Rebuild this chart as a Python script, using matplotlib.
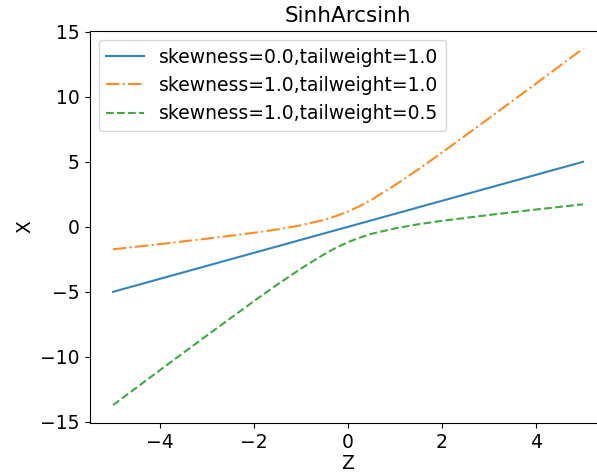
import numpy as np
import matplotlib.pyplot as plt

# sample points along Z
z = [-5.0, -4.0, -3.0, -2.0, -1.5, -1.0, -0.5, -0.25, 0.0, 0.25, 0.5, 1.0, 1.5, 2.0, 3.0, 4.0, 5.0]

# X for each parameter setting
x_sym = [-5.0, -4.0, -3.0, -2.0, -1.5, -1.0, -0.5, -0.25, 0.0, 0.25, 0.5, 1.0, 1.5, 2.0, 3.0, 4.0, 5.0]
x_skew = [-1.73, -1.33, -0.91, -0.46, -0.20, 0.12, 0.54, 0.83, 1.18, 1.60, 2.09, 3.21, 4.43, 5.71, 8.35, 11.02, 13.71]
x_skew_tail = [-13.71, -11.02, -8.35, -5.71, -4.43, -3.21, -2.09, -1.60, -1.18, -0.83, -0.54, -0.12, 0.20, 0.46, 0.91, 1.33, 1.73]

labels = ['skewness=0.0,tailweight=1.0',
          'skewness=1.0,tailweight=1.0',
          'skewness=1.0,tailweight=0.5']

fig = plt.figure(figsize=(5.97, 4.73), dpi=100)
ax = fig.add_axes([0.15, 0.106, 0.866, 0.829])

ax.plot(z, x_sym, '-', label=labels[0], alpha=0.9)
ax.plot(z, x_skew, '-.', label=labels[1], alpha=0.9)
ax.plot(z, x_skew_tail, '--', label=labels[2], alpha=0.9)

ax.set_xlim(-5.5, 5.5)
ax.set_ylim(-15.08, 15.08)
ax.set_xticks([-4, -2, 0, 2, 4])
ax.set_yticks([-15, -10, -5, 0, 5, 10, 15])
ax.tick_params(labelsize=13.5)
ax.set_title('SinhArcsinh', fontsize=15.5)
ax.set_xlabel('Z', fontsize=13.5, labelpad=2)
ax.set_ylabel('X', fontsize=13.5)
ax.legend(loc='upper left', fontsize=13.5)

fig.savefig('out.png', dpi=100)
